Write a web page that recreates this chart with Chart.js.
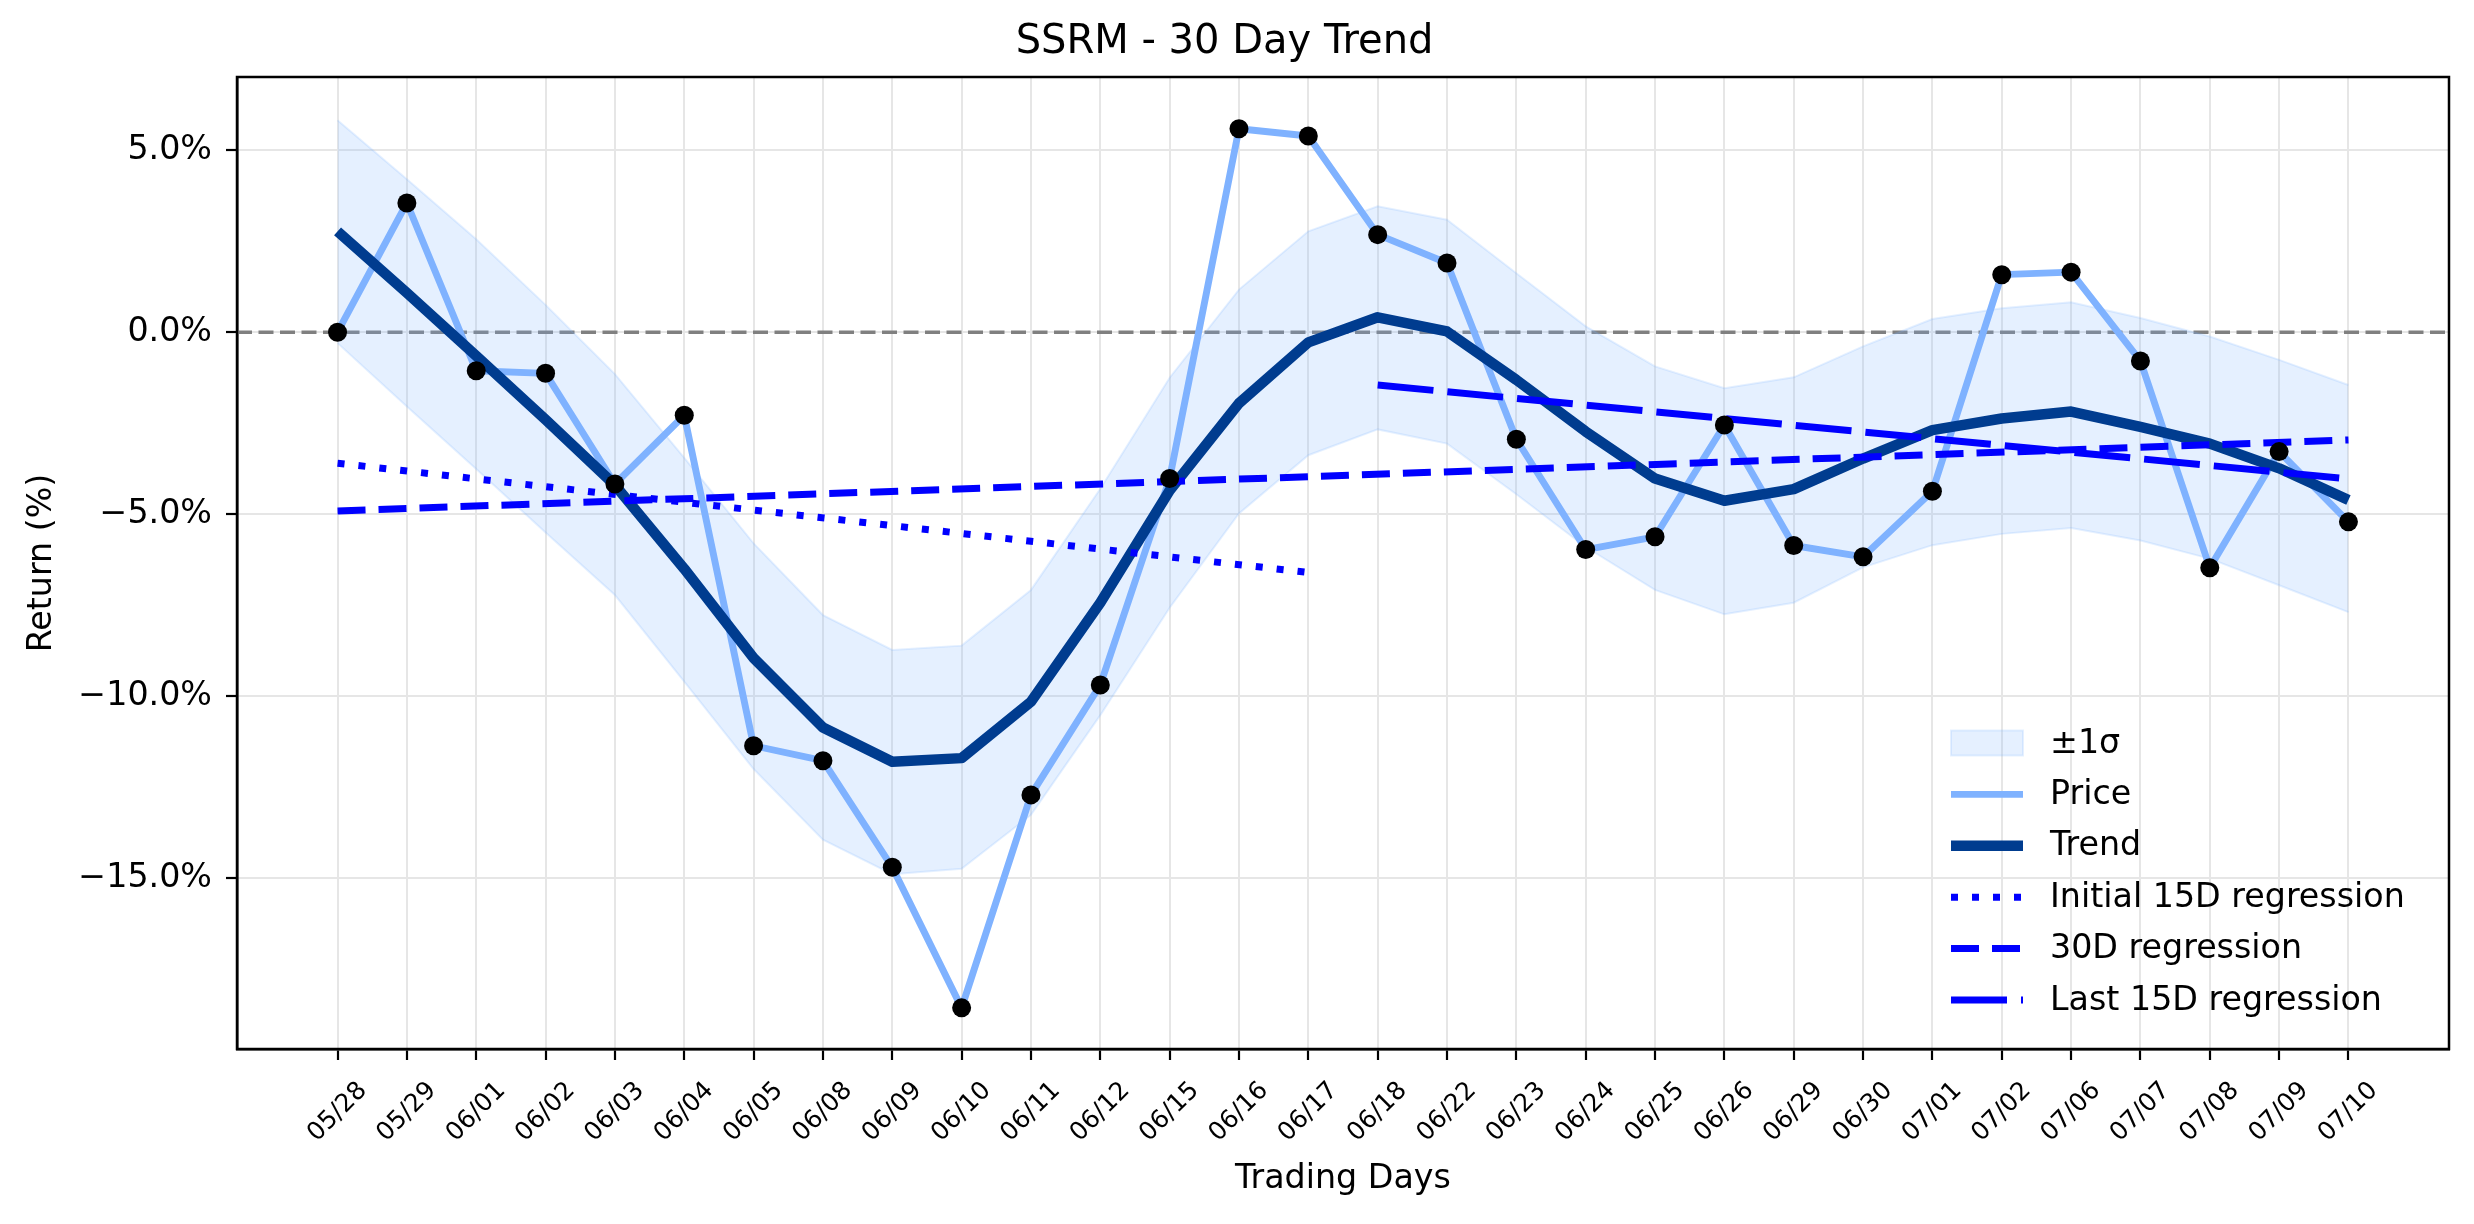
<!DOCTYPE html>
<html>
<head>
<meta charset="utf-8">
<title>SSRM - 30 Day Trend</title>
<script src="https://cdn.jsdelivr.net/npm/chart.js@4.4.1/dist/chart.umd.min.js"></script>
<style>
    html, body { margin: 0; padding: 0; background: #fff; }
    #wrap { width: 2474px; height: 1224px; }
</style>
</head>
<body>
<div id="wrap"><canvas id="trendChart" width="2474" height="1224"></canvas></div>
<script>
// trading days
const dates = ['05/28', '05/29', '06/01', '06/02', '06/03', '06/04', '06/05', '06/08', '06/09', '06/10',
    '06/11', '06/12', '06/15', '06/16', '06/17', '06/18', '06/22', '06/23', '06/24', '06/25',
    '06/26', '06/29', '06/30', '07/01', '07/02', '07/06', '07/07', '07/08', '07/09', '07/10'];

// return in %
const price = [0, 3.55, -1.06, -1.13, -4.17, -2.28, -11.36, -11.77, -14.70, -18.56,
    -12.71, -9.69, -4.02, 5.59, 5.39, 2.68, 1.90, -2.94, -5.97, -5.62,
    -2.55, -5.86, -6.17, -4.37, 1.58, 1.65, -0.79, -6.47, -3.28, -5.21];

const trend = [2.77, 1.08, -0.65, -2.40, -4.20, -6.50, -8.95, -10.86, -11.80, -11.70,
    -10.15, -7.43, -4.35, -1.95, -0.28, 0.41, 0.02, -1.31, -2.73, -4.02,
    -4.63, -4.31, -3.47, -2.69, -2.37, -2.18, -2.60, -3.06, -3.74, -4.61];

const bandUpper = [5.82, 4.20, 2.55, 0.75, -1.15, -3.45, -5.80, -7.77, -8.73, -8.61,
    -7.08, -4.30, -1.25, 1.17, 2.77, 3.46, 3.09, 1.62, 0.16, -0.94,
    -1.54, -1.24, -0.39, 0.36, 0.66, 0.82, 0.39, -0.12, -0.76, -1.45];

const bandLower = [-0.30, -2.04, -3.76, -5.50, -7.22, -9.60, -12.00, -13.94, -14.89, -14.74,
    -13.26, -10.52, -7.57, -4.98, -3.38, -2.67, -3.06, -4.45, -5.90, -7.08,
    -7.75, -7.43, -6.46, -5.85, -5.54, -5.38, -5.72, -6.22, -6.95, -7.69];

// regression line end points
const initialRegDates = ['05/28', '06/17'];
const initialRegValues = [-3.60, -6.60];
const fullRegDates = ['05/28', '07/10'];
const fullRegValues = [-4.91, -2.96];
const lastRegDates = ['06/18', '07/10'];
const lastRegValues = [-1.45, -4.03];

const yTicks = [-15, -10, -5, 0, 5];

const FONT = 'DejaVu Sans';
Chart.defaults.font.family = FONT;
Chart.defaults.color = '#000';

function toPoints(values) {
    return values.map((v, i) => ({ x: i, y: v }));
}

function regPoints(days, values) {
    return days.map((d, i) => ({ x: dates.indexOf(d), y: values[i] }));
}

function pctLabel(v) {
    return (v < 0 ? '\u2212' : '') + Math.abs(v).toFixed(1) + '%';
}

// dashed zero line + full frame
const zeroLine = {
    id: 'zeroLine',
    beforeDatasetsDraw(chart) {
        const { ctx, chartArea } = chart;
        const y = chart.scales.y.getPixelForValue(0);
        ctx.save();
        ctx.strokeStyle = '#808080';
        ctx.lineWidth = 3.5;
        ctx.setLineDash([15, 6.5]);
        ctx.beginPath();
        ctx.moveTo(chartArea.left, y);
        ctx.lineTo(chartArea.right, y);
        ctx.stroke();
        ctx.restore();
    },
    afterDatasetsDraw(chart) {
        const { ctx, chartArea } = chart;
        ctx.save();
        ctx.strokeStyle = '#000';
        ctx.lineWidth = 2.5;
        ctx.strokeRect(chartArea.left, chartArea.top, chartArea.right - chartArea.left, chartArea.bottom - chartArea.top);
        ctx.restore();
    }
};

// legend drawn inside the plot, lower right
const insideLegend = {
    id: 'insideLegend',
    afterDraw(chart) {
        const { ctx, chartArea } = chart;
        const items = chart.data.datasets
            .filter(d => d.legendRank !== undefined)
            .sort((a, b) => a.legendRank - b.legendRank);
        const handleLen = 72;
        const left = chartArea.right - 498;
        const rowH = 51.4;
        const lastY = chartArea.bottom - 49;
        ctx.save();
        ctx.font = '33.3px "' + FONT + '"';
        ctx.textBaseline = 'middle';
        items.forEach((d, i) => {
            const y = lastY - (items.length - 1 - i) * rowH;
            if (d.fill) {
                ctx.fillStyle = d.backgroundColor;
                ctx.fillRect(left, y - 12.5, handleLen, 25);
                ctx.strokeStyle = d.borderColor;
                ctx.lineWidth = 2;
                ctx.strokeRect(left, y - 12.5, handleLen, 25);
            } else {
                ctx.strokeStyle = d.borderColor;
                ctx.lineWidth = d.borderWidth;
                ctx.setLineDash(d.borderDash || []);
                ctx.beginPath();
                ctx.moveTo(left, y);
                ctx.lineTo(left + handleLen, y);
                ctx.stroke();
                ctx.setLineDash([]);
            }
            ctx.fillStyle = '#000';
            ctx.fillText(d.label, left + handleLen + 27, y + 1);
        });
        ctx.restore();
    }
};

const bandColor = 'rgba(127, 180, 255, 0.2)';

new Chart(document.getElementById('trendChart'), {
    type: 'line',
    data: {
        datasets: [
            {
                label: 'markers',
                data: toPoints(price),
                showLine: false,
                pointRadius: 9.5,
                pointBackgroundColor: '#000',
                pointBorderWidth: 0,
                order: 0
            },
            {
                label: 'Initial 15D regression',
                data: regPoints(initialRegDates, initialRegValues),
                borderColor: '#0000ff',
                borderWidth: 7,
                borderDash: [7, 14],
                pointRadius: 0,
                legendRank: 3,
                order: 3
            },
            {
                label: '30D regression',
                data: regPoints(fullRegDates, fullRegValues),
                borderColor: '#0000ff',
                borderWidth: 7,
                borderDash: [28, 13],
                pointRadius: 0,
                legendRank: 4,
                order: 2
            },
            {
                label: 'Last 15D regression',
                data: regPoints(lastRegDates, lastRegValues),
                borderColor: '#0000ff',
                borderWidth: 7,
                borderDash: [56, 14],
                pointRadius: 0,
                legendRank: 5,
                order: 1
            },
            {
                label: 'Trend',
                data: toPoints(trend),
                borderColor: '#003c8f',
                borderWidth: 10.5,
                borderJoinStyle: 'round',
                pointRadius: 0,
                legendRank: 2,
                order: 4
            },
            {
                label: 'Price',
                data: toPoints(price),
                borderColor: '#7fb2ff',
                borderWidth: 6.9,
                borderJoinStyle: 'round',
                pointRadius: 0,
                legendRank: 1,
                order: 5
            },
            {
                label: '\u00b11\u03c3',
                data: toPoints(bandUpper),
                borderColor: bandColor,
                backgroundColor: bandColor,
                borderWidth: 2,
                pointRadius: 0,
                fill: '+1',
                legendRank: 0,
                order: 6
            },
            {
                label: 'band lower',
                data: toPoints(bandLower),
                borderColor: bandColor,
                borderWidth: 2,
                pointRadius: 0,
                fill: false,
                order: 7
            }
        ]
    },
    options: {
        responsive: false,
        animation: false,
        events: [],
        layout: { padding: { left: 0, right: 25, top: 0, bottom: 0 } },
        plugins: {
            legend: { display: false },
            tooltip: { enabled: false },
            title: {
                display: true,
                text: 'SSRM - 30 Day Trend',
                font: { size: 40, weight: 'normal' },
                padding: { top: 19, bottom: 10 }
            }
        },
        scales: {
            x: {
                type: 'linear',
                min: -1.45,
                max: 30.45,
                afterBuildTicks: axis => { axis.ticks = dates.map((d, i) => ({ value: i })); },
                afterFit: scale => { scale.height = 175; },
                ticks: {
                    autoSkip: false,
                    minRotation: 45,
                    maxRotation: 45,
                    labelOffset: 25.5,
                    padding: 16,
                    font: { size: 25 },
                    callback: v => dates[v]
                },
                grid: { color: '#e6e6e6', lineWidth: 2, tickColor: '#000', tickWidth: 2.2, tickLength: 11 },
                border: { color: '#000', width: 2.5 },
                title: {
                    display: true,
                    text: 'Trading Days',
                    font: { size: 33.3 },
                    padding: { top: 0, bottom: 25 }
                }
            },
            y: {
                min: -19.69,
                max: 7.01,
                afterBuildTicks: axis => { axis.ticks = yTicks.map(v => ({ value: v })); },
                afterFit: scale => { scale.width = 237; },
                ticks: {
                    padding: 14,
                    font: { size: 33.3 },
                    callback: v => pctLabel(v)
                },
                grid: { color: '#e6e6e6', lineWidth: 2, tickColor: '#000', tickWidth: 2.2, tickLength: 11 },
                border: { color: '#000', width: 2.5 },
                title: {
                    display: true,
                    text: 'Return (%)',
                    font: { size: 33.3 },
                    padding: { top: 22, bottom: 0 }
                }
            }
        }
    },
    plugins: [zeroLine, insideLegend]
});
</script>
</body>
</html>
